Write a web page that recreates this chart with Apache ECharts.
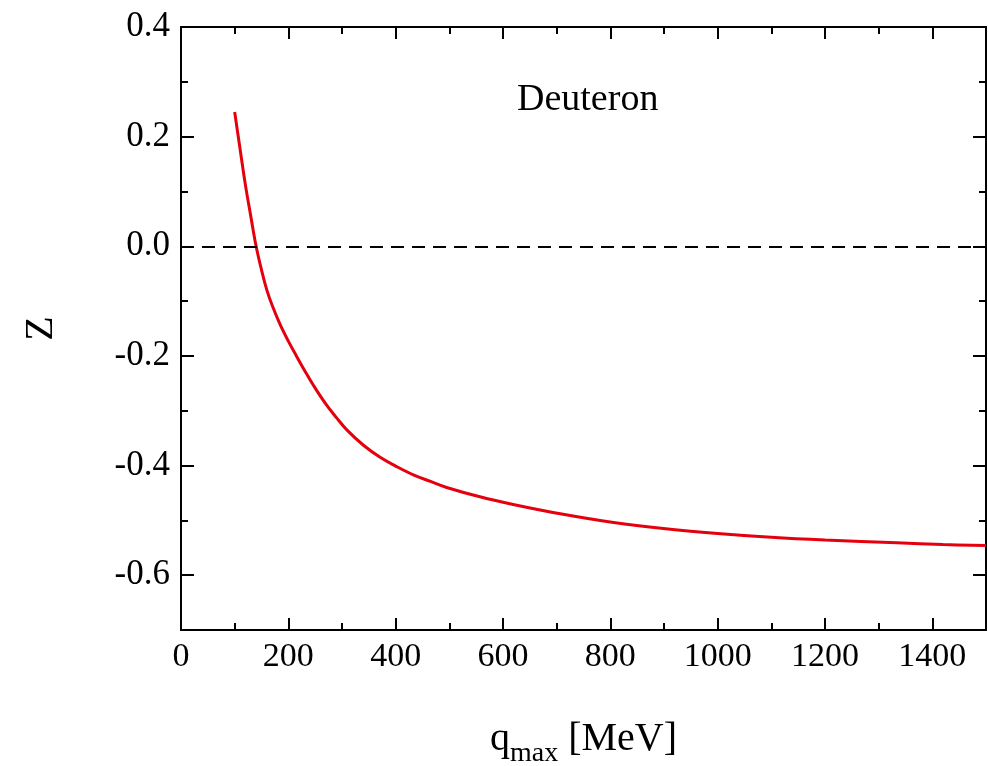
<!DOCTYPE html>
<html>
<head>
<meta charset="utf-8">
<script src="https://cdn.jsdelivr.net/npm/echarts@6/dist/echarts.min.js"></script>
<style>
  html, body { margin: 0; padding: 0; background: #fff; }
  #chart { width: 988px; height: 766px; }
</style>
</head>
<body>
<div id="chart"></div>
<script>
// q_max [MeV] and Z
var qMax = [100, 110, 120, 130, 140, 150, 160, 170, 184, 200, 215, 230, 247, 270, 290,
  309, 340, 371, 400, 433, 465, 495, 557, 619, 712, 806, 899, 1000, 1100, 1200, 1334,
  1420, 1500];
var zVals = [0.245, 0.178, 0.112, 0.055, 0.0, -0.043, -0.08, -0.108, -0.141, -0.173,
  -0.2, -0.226, -0.254, -0.288, -0.313, -0.335, -0.363, -0.385, -0.401, -0.417, -0.429,
  -0.44, -0.457, -0.471, -0.489, -0.504, -0.515, -0.524, -0.531, -0.536, -0.541,
  -0.544, -0.546];
var xTicks = [0, 200, 400, 600, 800, 1000, 1200, 1400];
var yTicks = [-0.6, -0.4, -0.2, 0.0, 0.2, 0.4];
var yMinorTicks = [-0.7, -0.5, -0.3, -0.1, 0.1, 0.3];
var label = 'Deuteron';

var font = 'Liberation Serif';
var chart = echarts.init(document.getElementById('chart'));

var curve = qMax.map(function (q, i) { return [q, zVals[i]]; });

var black = { color: '#000', width: 2 };

function xBox(extra) {
  return Object.assign({
    type: 'value', min: 0, max: 1500, interval: 200,
    axisLine: { show: true, onZero: false, lineStyle: black },
    axisTick: { show: true, inside: true, length: 12, lineStyle: black },
    minorTick: { show: true, splitNumber: 2, length: 7, lineStyle: black },
    splitLine: { show: false },
    axisLabel: { show: false }
  }, extra);
}

function yBox(extra, ticks, len, line) {
  return Object.assign({
    type: 'value', min: -0.7, max: 0.4, interval: 0.1,
    axisLine: { show: line, onZero: false, lineStyle: black },
    axisTick: { show: true, inside: true, length: len, lineStyle: black, customValues: ticks },
    splitLine: { show: false },
    axisLabel: { show: false }
  }, extra);
}

var option = {
  animation: false,
  grid: { left: 181, right: 2, top: 27, bottom: 136, outerBoundsMode: 'none' },
  title: {
    text: label,
    left: 512,
    top: 76,
    textStyle: { fontFamily: font, fontSize: 38, fontWeight: 'normal', color: '#000' }
  },
  xAxis: [
    xBox({
      axisLabel: {
        show: true, margin: 10, fontFamily: font, fontSize: 34, color: '#000',
        formatter: function (v) { return xTicks.indexOf(v) >= 0 ? String(v) : ''; }
      },
      name: '{a|q}{s|max}{a| [MeV]}',
      nameLocation: 'middle',
      nameGap: 80,
      nameTextStyle: {
        rich: {
          a: { fontFamily: font, fontSize: 40, color: '#000' },
          s: { fontFamily: font, fontSize: 28, color: '#000', padding: [30, 0, 0, 0] }
        }
      }
    }),
    xBox({ position: 'top' })
  ],
  yAxis: [
    yBox({
      position: 'left',
      axisLabel: {
        show: true, margin: 11, fontFamily: font, fontSize: 35, color: '#000',
        customValues: yTicks,
        formatter: function (v) { return (Math.round(v * 10) / 10).toFixed(1); }
      },
      name: 'Z',
      nameLocation: 'middle',
      nameGap: 120,
      nameRotate: 90,
      nameTextStyle: { fontFamily: font, fontSize: 40, color: '#000' }
    }, yTicks, 13, true),
    yBox({ position: 'left' }, yMinorTicks, 7, false),
    yBox({ position: 'right' }, yTicks, 13, true),
    yBox({ position: 'right' }, yMinorTicks, 7, false)
  ],
  series: [
    {
      type: 'line',
      data: curve,
      smooth: 0.4,
      showSymbol: false,
      lineStyle: { color: '#e5000e', width: 3 },
      markLine: {
        silent: true,
        symbol: 'none',
        label: { show: false },
        lineStyle: { color: '#000', width: 2, type: [13, 8] },
        data: [{ yAxis: 0 }]
      }
    }
  ]
};

chart.setOption(option);
</script>
</body>
</html>
